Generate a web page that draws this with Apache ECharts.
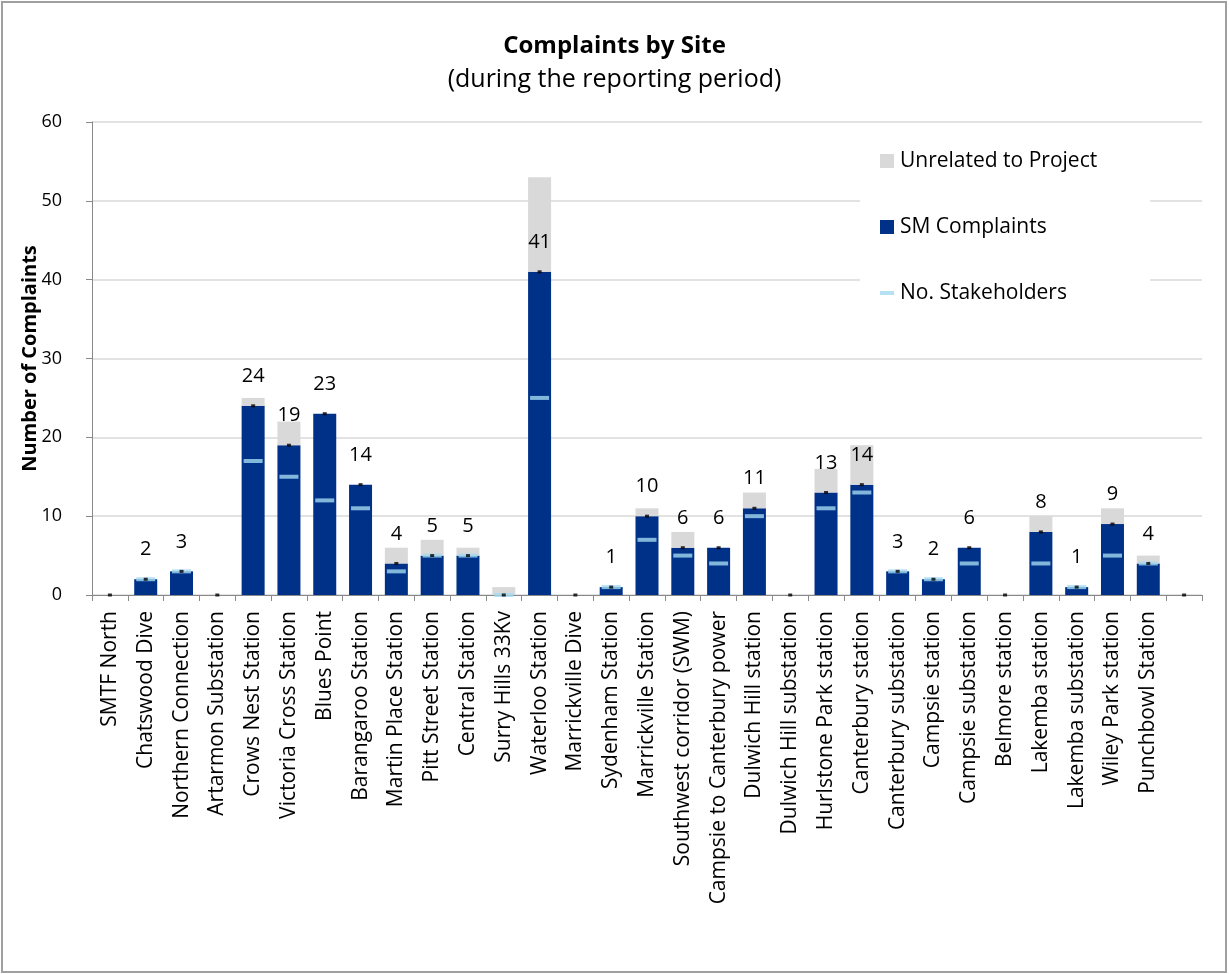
<!DOCTYPE html>
<html>
<head>
<meta charset="utf-8">
<script src="https://cdn.jsdelivr.net/npm/echarts@6/dist/echarts.min.js"></script>
<style>
html,body{margin:0;padding:0;background:#fff;}
#chart{width:1229px;height:974px;}
</style>
</head>
<body>
<div id="chart"></div>
<script>
const categories = ['SMTF North','Chatswood Dive','Northern Connection','Artarmon Substation','Crows Nest Station','Victoria Cross Station','Blues Point','Barangaroo Station','Martin Place Station','Pitt Street Station','Central Station','Surry Hills 33Kv','Waterloo Station','Marrickville Dive','Sydenham Station','Marrickville Station','Southwest corridor (SWM)','Campsie to Canterbury power','Dulwich Hill station','Dulwich Hill substation','Hurlstone Park station','Canterbury station','Canterbury substation','Campsie station','Campsie substation','Belmore station','Lakemba station','Lakemba substation','Wiley Park station','Punchbowl Station',''];
const smComplaints = [0,2,3,0,24,19,23,14,4,5,5,0,41,0,1,10,6,6,11,0,13,14,3,2,6,0,8,1,9,4,0];
const unrelated = [0,0,0,0,1,3,0,0,2,2,1,1,12,0,0,1,2,0,2,0,3,5,0,0,0,0,2,0,2,1,0];
const stakeholders = [null,2,3,null,17,15,12,11,3,5,5,0,25,null,1,7,5,4,10,null,11,13,3,2,4,null,4,1,5,4,null];
const yTicks = {min:0, max:60, interval:10};

const FONT = '"Open Sans", sans-serif';
const chart = echarts.init(document.getElementById('chart'), null, {renderer:'canvas'});
chart.setOption({
  backgroundColor:'#fff',
  animation:false,
  textStyle:{fontFamily:FONT, color:'#000'},
  title:[
    {text:'Complaints by Site', left:'center', top:27,
     textStyle:{fontFamily:FONT, fontSize:24, fontWeight:'bold', color:'#000', lineHeight:28}},
    {text:'(during the reporting period)', left:'center', top:60,
     textStyle:{fontFamily:FONT, fontSize:25, fontWeight:'normal', color:'#000', lineHeight:30}}
  ],
  graphic:[
    {type:'rect', shape:{x:2, y:2, width:1224, height:970}, style:{fill:'none', stroke:'#a0a0a0', lineWidth:2}, silent:true, z:-1}
  ],
  legend:{
    orient:'vertical', left:860, top:129,
    backgroundColor:'#fff',
    padding:[20,53,20,20],
    itemWidth:14, itemHeight:14, itemGap:42,
    symbolKeepAspect:true,
    textStyle:{fontFamily:FONT, fontSize:21, color:'#000', lineHeight:24, padding:[0,0,0,1]},
    data:[
      {name:'Unrelated to Project', icon:'rect'},
      {name:'SM Complaints', icon:'rect'},
      {name:'No. Stakeholders', icon:'path://M0,0H14V4H0Z'}
    ]
  },
  grid:{left:92, right:27, top:122, bottom:379, containLabel:false},
  xAxis:{
    type:'category', data:categories, boundaryGap:true,
    axisLine:{show:true, lineStyle:{color:'#898989', width:1}},
    axisTick:{show:true, length:6, alignWithLabel:false, interval:0, lineStyle:{color:'#898989'}},
    axisLabel:{interval:0, rotate:90, margin:16, fontFamily:FONT, fontSize:21, color:'#000'},
    splitLine:{show:false}
  },
  yAxis:{
    type:'value', min:yTicks.min, max:yTicks.max, interval:yTicks.interval,
    name:'Number of Complaints', nameLocation:'middle', nameGap:52, nameRotate:90,
    nameMoveOverlap:false,
    nameTextStyle:{fontFamily:FONT, fontSize:20, fontWeight:'bold', color:'#000'},
    axisLine:{show:true, lineStyle:{color:'#898989', width:1}},
    axisTick:{show:true, length:6, lineStyle:{color:'#898989'}},
    axisLabel:{margin:30, fontFamily:FONT, fontSize:18, color:'#000'},
    splitLine:{show:true, lineStyle:{color:'#d9d9d9', width:1.5}}
  },
  series:[
    {name:'SM Complaints', type:'bar', stack:'total', data:smComplaints, barWidth:23,
     itemStyle:{color:'#003189'}, z:2},
    {name:'Unrelated to Project', type:'bar', stack:'total', data:unrelated, barWidth:23,
     itemStyle:{color:'#d9d9d9'}, z:2},
    {name:'No. Stakeholders', type:'scatter', data:stakeholders,
     symbol:'rect', symbolSize:[19,4], itemStyle:{color:'#a3d9f0'}, z:3},
    {name:'labels', type:'scatter', data:smComplaints,
     symbol:'rect', symbolSize:[4,3], itemStyle:{color:'#000'}, z:4,
     label:{show:true, position:'top', distance:17, fontFamily:FONT, fontSize:20, color:'#000', lineHeight:22,
       textBorderWidth:0, textShadowBlur:0, opacity:1,
       formatter:function(p){return p.value ? String(p.value) : '';}}}
  ]
});
</script>
</body>
</html>
